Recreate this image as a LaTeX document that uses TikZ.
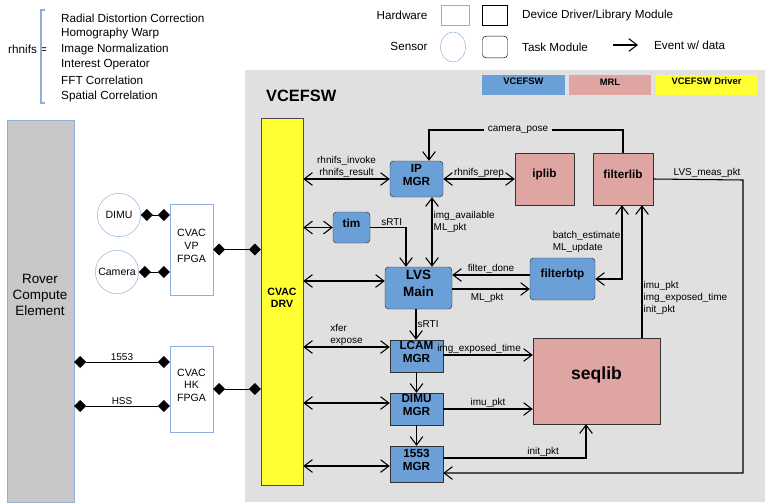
\documentclass[tikz,border=0pt]{standalone}
\usepackage{fontspec}
\setmainfont{Liberation Sans}
\usetikzlibrary{arrows.meta,fit,positioning,shapes.geometric}
\definecolor{bgray}{HTML}{E0E0E0}
\definecolor{rgray}{HTML}{C8C8C8}
\definecolor{hwblue}{HTML}{8FB0D8}
\definecolor{swblue}{HTML}{6A9FD8}
\definecolor{mrl}{HTML}{DEA5A3}
\definecolor{drv}{HTML}{FFFF33}
\tikzset{
  sw/.style={draw=black!80, fill=swblue, rounded corners=3pt, inner sep=0pt, align=center, font=\bfseries\fontsize{10}{11.5}\selectfont},
  swsq/.style={sw, rounded corners=0pt},
  lib/.style={draw=black!80, fill=mrl, inner sep=0pt, align=center, font=\bfseries\fontsize{10}{11.5}\selectfont},
  hw/.style={draw=hwblue, fill=white, inner sep=0pt, align=center, font=\fontsize{9}{11}\selectfont},
  sensor/.style={draw=hwblue, fill=white, circle, minimum size=1.3cm, inner sep=0pt, font=\fontsize{9}{11}\selectfont},
  lbl/.style={font=\fontsize{8.5}{10}\selectfont, align=left, inner sep=1pt},
  leg/.style={font=\fontsize{10}{12}\selectfont},
  ev/.style={line width=0.9pt, -{Straight Barb[length=2.5mm,width=3.8mm]}},
  evb/.style={line width=0.9pt, {Straight Barb[length=2.5mm,width=3.8mm]}-{Straight Barb[length=2.5mm,width=3.8mm]}},
  link/.style={line width=0.7pt, {Diamond[length=3.6mm,width=3.6mm]}-{Diamond[length=3.6mm,width=3.6mm]}},
}
\begin{document}
\begin{tikzpicture}[x=0.03cm, y=-0.03cm]
\useasboundingbox (0,0) rectangle (765,502);

% legend
\node[anchor=west, leg, inner sep=0pt] (rh) at (8,49) {rhnifs =};
\draw[hwblue, line width=1.2pt] (45,10) -- (41,10) -- (41,103) -- (45,103);
\foreach \t [count=\i] in {Radial Distortion Correction, Homography Warp, Image Normalization, Interest Operator, FFT Correlation, Spatial Correlation}
  \node[anchor=west, leg, inner sep=0pt] (rh\i) at (61,{18+15.6*(\i-1)}) {\t};
\node[leg] (lhw) at (402,15) {Hardware};
\node[draw=hwblue, fill=white, minimum width=0.85cm, minimum height=0.6cm] (lhwb) at (455,15) {};
\node[draw, minimum width=0.75cm, minimum height=0.6cm] (ldev) at (495,15) {};
\node[anchor=west, leg] (ldevt) at (518,15) {Device Driver/Library Module};
\node[leg] (lsen) at (409,46) {Sensor};
\node[draw=hwblue, ellipse, minimum width=0.75cm, minimum height=0.9cm] (lsenc) at (453,47) {};
\node[draw, rounded corners=3pt, minimum width=0.75cm, minimum height=0.65cm] (ltask) at (495,47) {};
\node[anchor=west, leg] (ltaskt) at (518,47) {Task Module};
\coordinate (la1) at (613,45); \coordinate (la2) at (638,45);
\draw[ev] (la1) -- (la2);
\node[anchor=west, leg] (levt) at (650,45) {Event w/ data};

% VCEFSW area
\fill[bgray] (245,70) rectangle (765,502);
\node[anchor=west, font=\bfseries\fontsize{14}{16}\selectfont] (title) at (262,96) {VCEFSW};
\node[fit={(482,75) (565,95)}, fill=swblue, inner sep=0pt, font=\bfseries\fontsize{8}{9}\selectfont] (kblue) {VCEFSW};
\node[fit={(569,75) (651,95)}, fill=mrl, inner sep=0pt, font=\bfseries\fontsize{8}{9}\selectfont] (kmrl) {MRL};
\node[fit={(656,75) (757,95)}, fill=drv, inner sep=0pt, font=\bfseries\fontsize{8}{9}\selectfont] (kdrv) {VCEFSW Driver};

% hardware
\node[fit={(7,120) (74,502)}, fill=rgray, draw=hwblue, inner sep=0pt] (rover) {};
\node[font=\fontsize{11.5}{14}\selectfont, align=center] (roverl) at (40,295) {Rover\\Compute\\Element};
\node[fit={(170,204) (213,295)}, hw] (vp) {CVAC\\VP\\FPGA};
\node[fit={(170,346) (213,432)}, hw] (hk) {CVAC\\HK\\FPGA};
\node[sensor] (dimu) at (119,215) {DIMU};
\node[sensor] (cam) at (117,272) {Camera};
\node[fit={(261,118) (303,485)}, draw=black!70, fill=drv, inner sep=0pt, align=center, font=\bfseries\fontsize{9}{11}\selectfont] (cdrv) {CVAC\\DRV};

% software
\node[fit={(390,161) (443,197)}, sw] (ipm) {IP\\MGR};
\node[fit={(515,153) (574,205)}, lib] (iplib) {iplib};
\node[fit={(593,153) (653,205)}, lib] (flib) {filterlib};
\node[fit={(333,212) (370,243)}, sw] (tim) {tim};
\node[fit={(385,267) (452,309)}, sw, font=\bfseries\fontsize{11.5}{14}\selectfont] (lvs) {LVS\\Main};
\node[fit={(530,258) (595,300)}, sw] (fbtp) {filterbtp};
\node[fit={(390,340) (443,372)}, swsq] (lcam) {LCAM\\MGR};
\node[fit={(390,393) (443,425)}, swsq] (dimum) {DIMU\\MGR};
\node[fit={(390,446) (443,482)}, swsq] (m1553) {1553\\MGR};
\node[fit={(533,338) (660,424)}, lib, font=\bfseries\fontsize{15}{17}\selectfont] (seq) {seqlib};

% hardware links
\draw[link] (dimu.east) -- (dimu.east -| vp.west);
\draw[link] (cam.east) -- (cam.east -| vp.west);
\draw[link] (vp.east) -- (vp.east -| cdrv.west);
\draw[link] (rover.east |- 0,362) -- node[lbl, above] {1553} (hk.west |- 0,362);
\draw[link] (rover.east |- 0,406) -- node[lbl, above] {HSS} (hk.west |- 0,406);
\draw[link] (hk.east) -- (hk.east -| cdrv.west);

% driver events
\draw[evb] (cdrv.east |- ipm) -- node[lbl, above, align=center] {rhnifs\_invoke\\rhnifs\_result} (ipm.west);
\draw[evb] (cdrv.east |- tim) -- (tim.west);
\draw[evb] (cdrv.east |- 0,281) -- (lvs.west |- 0,281);
\draw[evb] (cdrv.east |- 0,347) -- node[lbl, above, align=left] {xfer\\expose} (lcam.west |- 0,347);
\draw[evb] (cdrv.east |- 0,403) -- (dimum.west |- 0,403);
\draw[evb] (cdrv.east |- 0,466) -- (m1553.west |- 0,466);

% task events
\draw[evb] (ipm.east) -- node[lbl, above] {rhnifs\_prep} (iplib.west |- ipm.east);
\draw[ev] (flib.north) |- (429,130) -- (ipm.north -| 429,0);
\node[lbl, fill=bgray, inner sep=3pt] (cpose) at (518,130) {camera\_pose};
\draw[ev] (tim.east) -| node[lbl, above, pos=0.3] {sRTI} (lvs.north -| 406,0);
\draw[evb] (ipm.south -| 432,0) -- node[lbl, right, align=left, pos=0.35] {img\_available\\ML\_pkt} (lvs.north -| 432,0);
\draw[ev] (fbtp.west |- 0,275) -- node[lbl, above] {filter\_done} (lvs.east |- 0,275);
\draw[ev] (lvs.east |- 0,289) -- node[lbl, below, pos=0.45, yshift=-2pt] {ML\_pkt} (fbtp.west |- 0,289);
\draw[evb] (fbtp.east) -| node[lbl, left, align=left, pos=0.75] {batch\_estimate\\ML\_update} (flib.south -| 622,0);
\draw[ev] (seq.north -| 642,0) -- node[lbl, right, align=left, pos=0.3] {imu\_pkt\\img\_exposed\_time\\init\_pkt} (flib.south -| 642,0);
\draw[ev] (flib.east) -- node[lbl, above, pos=0.6] {LVS\_meas\_pkt} (743,180) |- (m1553.east |- 0,473);
\draw[ev] (lvs.south -| 416,0) -- node[lbl, right] {sRTI} (lcam.north -| 416,0);
\draw[ev] (lcam.south) -- (dimum.north);
\draw[ev] (dimum.south) -- (m1553.north);
\draw[ev] (lcam.east |- 0,355) -- node[lbl, above, pos=0.4] {img\_exposed\_time} (seq.west |- 0,355);
\draw[ev] (dimum.east |- 0,409) -- node[lbl, above] {imu\_pkt} (seq.west |- 0,409);
\draw[ev] (m1553.east |- 0,458) -| node[lbl, above, pos=0.35] {init\_pkt} (seq.south -| 586,0);
\end{tikzpicture}
\end{document}
